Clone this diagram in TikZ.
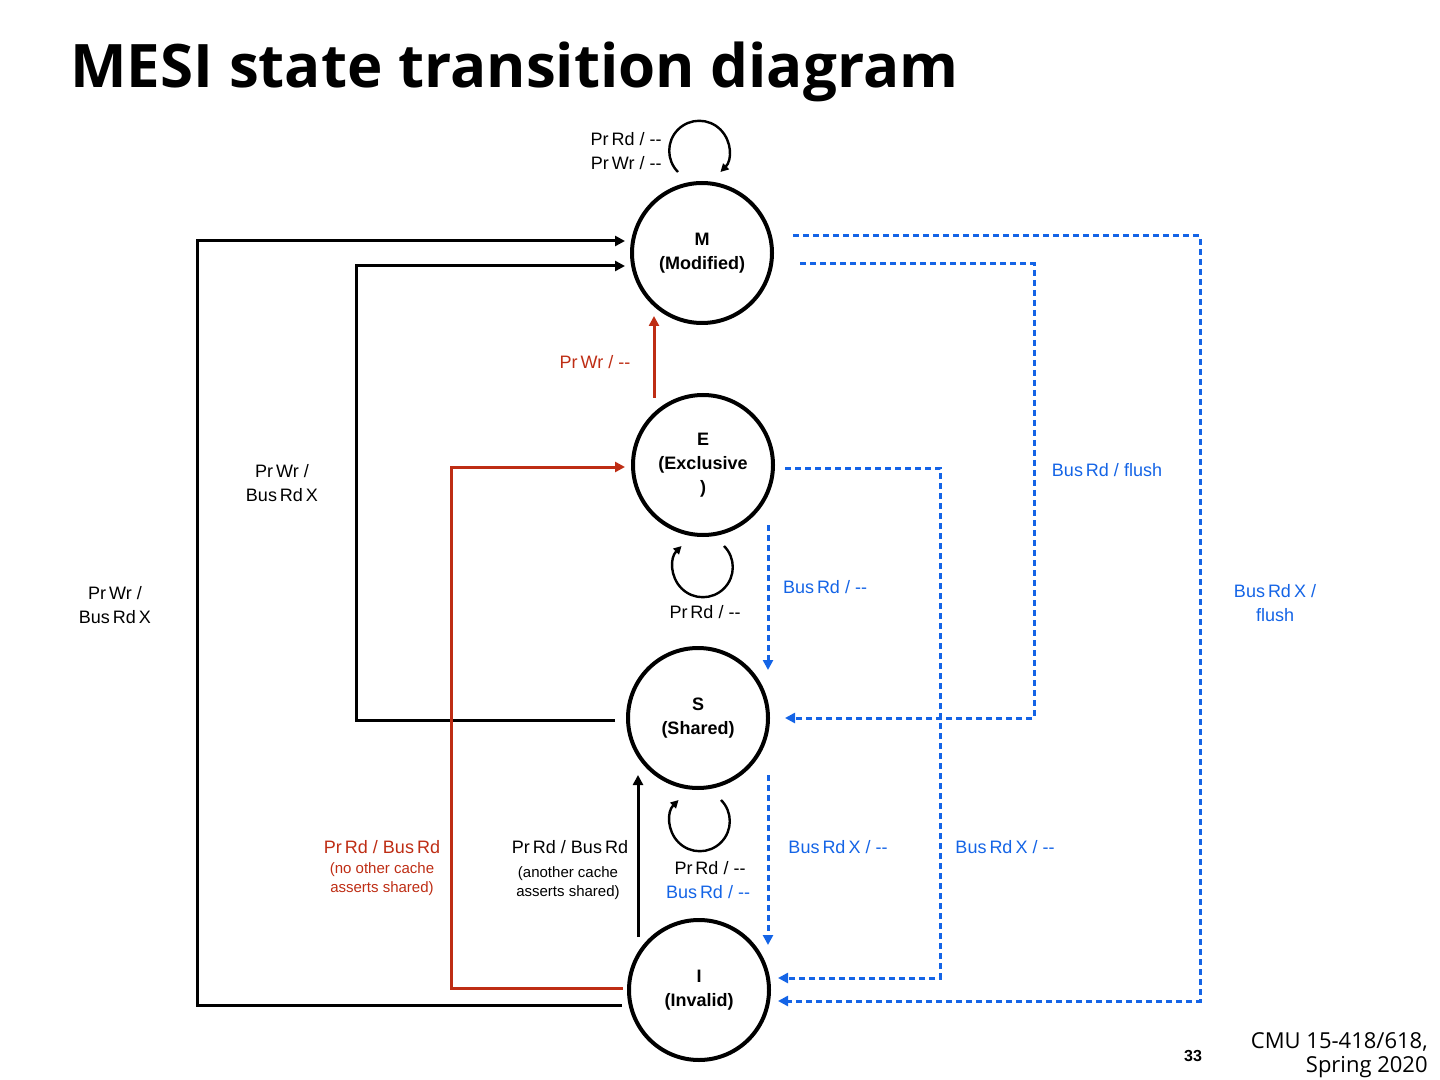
\documentclass[tikz,border=0pt]{standalone}
\usepackage{fontspec}
\setmainfont{Liberation Sans}
\newfontfamily\titlefont{Open Sans}
\usetikzlibrary{arrows.meta}
\definecolor{busblue}{RGB}{20,100,230}
\definecolor{prred}{RGB}{190,45,20}
\begin{document}
\begin{tikzpicture}[x=0.5pt,y=-0.5pt,
  state/.style={draw,circle,line width=2pt,minimum size=70pt,align=center,font=\fontsize{9}{12}\selectfont\bfseries},
  lbl/.style={align=center,font=\fontsize{9}{12}\selectfont,inner sep=0pt},
  small/.style={align=center,font=\fontsize{7.5}{9.5}\selectfont,inner sep=0pt},
  tr/.style={line width=1.5pt,-{Triangle[length=5pt,width=5pt]}},
  bus/.style={tr,busblue,dash pattern=on 3pt off 2pt},
  loop/.style={line width=1.2pt,-{Triangle[length=4pt,width=4pt]}}]
\useasboundingbox (0,0) rectangle (1440,1080);
\node[anchor=west,inner sep=0pt,font=\titlefont\bfseries\fontsize{30}{36}\selectfont] (title) at (70,72) {MESI state transition diagram};

\node[state] (M) at (702,253) {M\\(Modified)};
\node[state] (E) at (703,465) {E\\(Exclusive\\)};
\node[state] (S) at (698,718) {S\\(Shared)};
\node[state] (I) at (699,990) {I\\(Invalid)};

% self loops
\draw[loop] (678,172) arc[start angle=135,end angle=405,radius=30];
\node[lbl,align=right,anchor=east] (mloop) at (662,151) {Pr\,Rd / -{}-\\Pr\,Wr / -{}-};
\draw[loop] (724,546) arc[start angle=-45,end angle=225,radius=30];
\node[lbl] (eloop) at (705,612) {Pr\,Rd / -{}-};
\draw[loop] (721,800) arc[start angle=-45,end angle=225,radius=30];
\node[lbl] (sloop1) at (710,868) {Pr\,Rd / -{}-};
\node[lbl,text=busblue] (sloop2) at (708,892) {Bus\,Rd / -{}-};

% black processor transitions
\coordinate (i1) at (622,1005); \coordinate (m1) at (625,241);
\draw[tr] (i1) -- (197,1005) -- (197,241) -- (m1);
\coordinate (s1) at (615,720); \coordinate (m2) at (625,266);
\draw[tr] (s1) -- (356,720) -- (356,266) -- (m2);
\coordinate (i2) at (638,937); \coordinate (s2) at (638,775);
\draw[tr] (i2) -- (s2);

% red transitions
\coordinate (i3) at (623,988); \coordinate (e1) at (625,467);
\draw[tr,prred] (i3) -- (451,988) -- (451,467) -- (e1);
\coordinate (e2) at (654,398); \coordinate (m3) at (654,316);
\draw[tr,prred] (e2) -- (m3);

% blue bus transitions
\coordinate (m4) at (793,236); \coordinate (i4) at (778,1001);
\draw[bus] (m4) -- (1200,236) -- (1200,1001) -- (i4);
\coordinate (m5) at (800,264); \coordinate (s3) at (785,718);
\draw[bus] (m5) -- (1034,264) -- (1034,718) -- (s3);
\coordinate (e3) at (785,468); \coordinate (i5) at (778,978);
\draw[bus] (e3) -- (940,468) -- (940,978) -- (i5);
\coordinate (e4) at (768,525); \coordinate (s4) at (768,670);
\draw[bus] (e4) -- (s4);
\coordinate (s5) at (768,775); \coordinate (i6) at (768,945);
\draw[bus] (s5) -- (i6);

% labels
\node[lbl,text=prred] (l1) at (595,362) {Pr\,Wr / -{}-};
\node[lbl] (l2) at (282,483) {Pr\,Wr /\\Bus\,Rd\,X};
\node[lbl] (l3) at (115,605) {Pr\,Wr /\\Bus\,Rd\,X};
\node[lbl,text=busblue] (l4) at (1107,470) {Bus\,Rd / flush};
\node[lbl,text=busblue] (l5) at (1275,603) {Bus\,Rd\,X /\\flush};
\node[lbl,text=busblue] (l6) at (825,587) {Bus\,Rd / -{}-};
\node[lbl,text=busblue] (l7) at (838,847) {Bus\,Rd\,X / -{}-};
\node[lbl,text=busblue] (l8) at (1005,847) {Bus\,Rd\,X / -{}-};
\node[lbl,text=prred] (l9) at (382,847) {Pr\,Rd / Bus\,Rd};
\node[small,text=prred] (l10) at (382,879) {(no other cache\\asserts shared)};
\node[lbl] (l11) at (570,847) {Pr\,Rd / Bus\,Rd};
\node[small] (l12) at (568,883) {(another cache\\asserts shared)};

\node[inner sep=0pt,font=\fontsize{8}{10}\selectfont\bfseries] (pg) at (1193,1056) {33};
\node[inner sep=0pt,align=right,anchor=north east,font=\titlefont\fontsize{11}{12}\selectfont] (cmu) at (1428,1032) {CMU 15-418/618,\\Spring 2020};
\end{tikzpicture}
\end{document}
